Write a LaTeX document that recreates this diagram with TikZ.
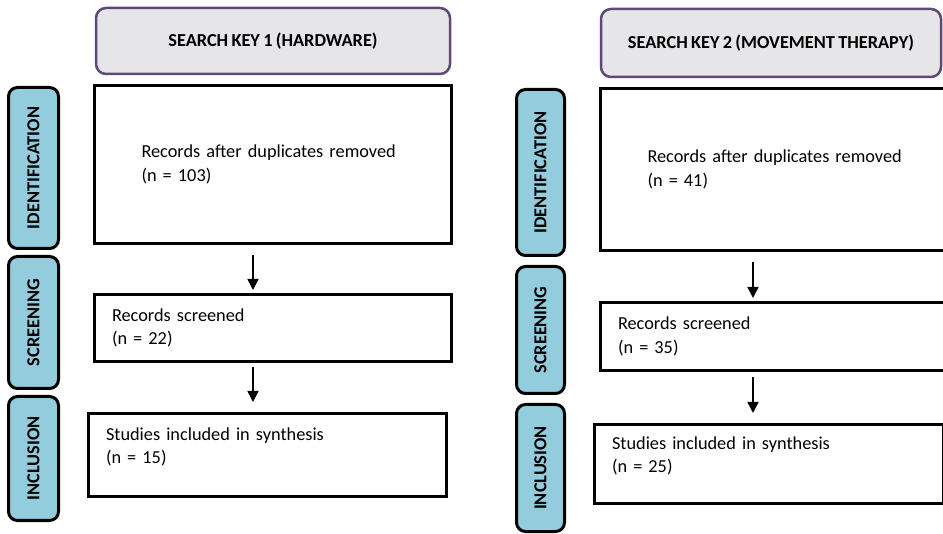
\documentclass[tikz,border=0pt]{standalone}
\usepackage{fontspec}
\setmainfont{Carlito}[WordSpace=0.8]
\usetikzlibrary{arrows.meta,positioning}
\definecolor{hdpurple}{HTML}{5F497A}
\definecolor{hdgray}{HTML}{E6E5E8}
\definecolor{tabblue}{HTML}{93CDDD}
\tikzset{
  prisma/.style={x=1pt, y=-1pt, every node/.style={font=\fontsize{18.3}{23.5}\selectfont, inner sep=0pt}},
  key/.style={draw=hdpurple, line width=2.5pt, fill=hdgray, rounded corners=10pt, font=\bfseries\fontsize{18.3}{22}\selectfont},
  phase/.style={draw, line width=3pt, fill=tabblue, rounded corners=9pt, rotate=90, minimum height=50pt,
                font=\bfseries\fontsize{18.3}{22}\selectfont},
  rec/.style={draw, line width=3pt, anchor=north west, align=left, inner xsep=17.5pt},
  recwide/.style={rec, inner xsep=47pt},
  lifted/.style={execute at end node={\par\vspace*{16pt}}},
  flow/.style={-{Triangle[length=11pt,width=11pt]}, line width=1.5pt}
}

\begin{document}
\begin{tikzpicture}[prisma]
\useasboundingbox (0,0) rectangle (943,534);
\node[key, minimum width=354pt, minimum height=66pt] (key1) at (273,41) {SEARCH KEY 1 (HARDWARE)};
\node[key, minimum width=340pt, minimum height=68pt] (key2) at (771,43) {SEARCH KEY 2 (MOVEMENT THERAPY)};

\node[phase, minimum width=161pt] (id1) at (33.5,168) {IDENTIFICATION};
\node[phase, minimum width=132pt] (scr1) at (33.5,322.5) {SCREENING};
\node[phase, minimum width=124pt] (inc1) at (33.5,458.5) {INCLUSION};
\node[phase, minimum width=166pt, minimum height=48pt] (id2) at (540.5,172.5) {IDENTIFICATION};
\node[phase, minimum width=127pt, minimum height=48pt] (scr2) at (540.5,330) {SCREENING};
\node[phase, minimum width=127pt, minimum height=48pt] (inc2) at (540.5,468) {INCLUSION};

\node[recwide, minimum width=357pt, minimum height=158pt, text width=263pt] (dup1) at (93,84) {Records after duplicates removed\\(n = 103)};
\node[rec, minimum width=357pt, minimum height=67pt, text width=322pt] (scn1) at (93,293) {Records screened\\(n = 22)};
\node[rec, lifted, minimum width=358pt, minimum height=83pt, text width=323pt] (syn1) at (87,412) {Studies included in synthesis\\(n = 15)};
\node[recwide, minimum width=355pt, minimum height=162pt, text width=261pt] (dup2) at (599,87) {Records after duplicates removed\\(n = 41)};
\node[rec, minimum width=355pt, minimum height=68pt, text width=320pt] (scn2) at (599,301) {Records screened\\(n = 35)};
\node[rec, lifted, minimum width=349pt, minimum height=79pt, text width=314pt] (syn2) at (593,423) {Studies included in synthesis\\(n = 25)};

\draw[flow, shorten >=3pt] ([xshift=-20pt,yshift=-10pt]dup1.south) -- ([xshift=-20pt]dup1.south |- scn1.north);
\draw[flow, shorten >=10pt] ([xshift=-20pt,yshift=-4pt]scn1.south) -- ([xshift=-20pt]scn1.south |- syn1.north);
\draw[flow, shorten >=3pt] ([xshift=-25pt,yshift=-10pt]dup2.south) -- ([xshift=-25pt]dup2.south |- scn2.north);
\draw[flow, shorten >=10pt] ([xshift=-25pt,yshift=-5pt]scn2.south) -- ([xshift=-25pt]scn2.south |- syn2.north);
\end{tikzpicture}
\end{document}
